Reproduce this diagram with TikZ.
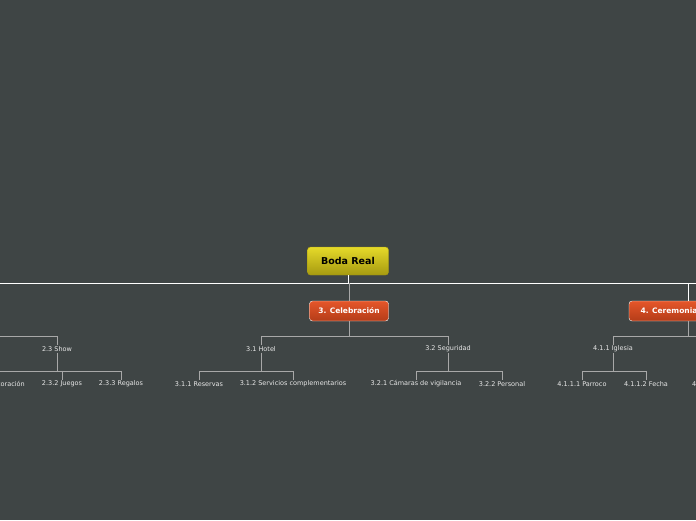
\documentclass[tikz,border=0pt]{standalone}
\usepackage{fontspec}
\setmainfont{DejaVu Sans}
\usetikzlibrary{positioning}
\definecolor{bgcol}{HTML}{3F4545}
\definecolor{linkcol}{HTML}{A8A8A8}
\definecolor{leafcol}{HTML}{E8E8E8}
\definecolor{rootA}{HTML}{E6DA2A}
\definecolor{rootB}{HTML}{A69A10}
\definecolor{mainA}{HTML}{E5562A}
\definecolor{mainB}{HTML}{B43C18}
\tikzset{
  rootbox/.style={draw=rootB, rounded corners=3pt, top color=rootA, bottom color=rootB,
    minimum width=81pt, minimum height=28pt, font=\bfseries\fontsize{9.5}{11}\selectfont, text=black},
  mainbox/.style={draw=white, rounded corners=3pt, top color=mainA, bottom color=mainB,
    minimum width=79pt, minimum height=20pt, font=\bfseries\fontsize{7.5}{9}\selectfont, text=white},
  leaf/.style={font=\fontsize{6.5}{8}\selectfont, text=leafcol, inner sep=1pt},
  link/.style={draw=linkcol, line width=0.9pt},
}
\begin{document}
\begin{tikzpicture}[x=1pt,y=-1pt]
  \fill[bgcol] (0,0) rectangle (696,520);
  \useasboundingbox (0,0) rectangle (696,520);
  \clip (0,0) rectangle (696,520);

  % main nodes
  \node[rootbox] (root) at (348,261) {Boda Real};
  \node[mainbox] (celeb) at (349,311) {3. Celebración};
  \node[mainbox, minimum width=80pt] (cerem) at (669,311) {4. Ceremonia\hspace{7pt}};

  % second level
  \node[leaf] (show) at (57,349) {2.3 Show};
  \node[leaf] (hotel) at (261,349) {3.1 Hotel};
  \node[leaf] (segur) at (448,349) {3.2 Seguridad};
  \node[leaf] (iglesia) at (613,349) {4.1.1 Iglesia};

  % leaves
  \node[leaf, anchor=east] (deco) at (26,384) {2.3.1 Decoración};
  \node[leaf] (juegos) at (62,384) {2.3.2 Juegos};
  \node[leaf] (regalos) at (121,384) {2.3.3 Regalos};
  \node[leaf] (reservas) at (199,384) {3.1.1 Reservas};
  \node[leaf] (servicios) at (293,384) {3.1.2 Servicios complementarios};
  \node[leaf] (camaras) at (416,384) {3.2.1 Cámaras de vigilancia};
  \node[leaf] (personal) at (502,384) {3.2.2 Personal};
  \node[leaf] (parroco) at (582,384) {4.1.1.1 Parroco};
  \node[leaf] (fecha) at (646,384) {4.1.1.2 Fecha};
  \node[leaf, anchor=west] (next) at (691,384) {4.1.1.3};

  % top bar
  \draw[white, line width=0.9pt] (0,283) -- (696,283);
  \draw[white, line width=0.9pt] (root.south) -- (348,283);
  \draw[link] (349,283) -- (celeb.north);
  \draw[white, line width=0.9pt] (688,283) -- (688,301);

  % Celebracion branch
  \draw[link] (celeb.south) -- (349,336) -| (hotel.north);
  \draw[link] (349,336) -| (segur.north);
  \draw[link] (hotel.south) -- (261,371) -| (reservas.north);
  \draw[link] (261,371) -| (servicios.north);
  \draw[link] (segur.south) -- (448,371) -| (camaras.north);
  \draw[link] (448,371) -| (personal.north);

  % Ceremonia branch
  \draw[link] (688,321) -- (688,336) -| (iglesia.north);
  \draw[link] (688,336) -- (696,336);
  \draw[link] (iglesia.south) -- (613,371) -| (parroco.north);
  \draw[link] (613,371) -| (fecha.north);

  % left branch
  \draw[link] (0,336) -| (show.north);
  \draw[link] (show.south) -- (57,371) -| (juegos.north);
  \draw[link] (57,371) -| (regalos.north);
  \draw[link] (57,371) -- (0,371);
\end{tikzpicture}
\end{document}
